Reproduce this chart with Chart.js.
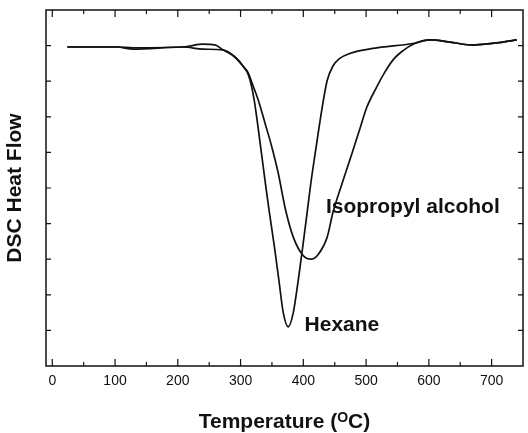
<!DOCTYPE html>
<html>
<head>
<meta charset="utf-8">
<script src="https://cdn.jsdelivr.net/npm/chart.js@4.4.0/dist/chart.umd.min.js"></script>
<style>
  body { margin: 0; background: #fff; }
  canvas { display: block; }
</style>
</head>
<body>
<canvas id="dsc" width="528" height="433"></canvas>
<script>
// temperatures (°C) and heat flow (arbitrary units)
const hexaneT = [24, 103, 129, 208, 240, 272, 291, 305, 312, 317, 322, 327, 334, 341, 346, 354, 361, 368, 376, 384, 392, 399, 406, 412, 422, 430, 438, 447, 458, 474, 511, 575, 602, 634, 666, 718, 740];
const hexaneV = [3.98, 3.98, 3.95, 3.98, 3.95, 3.94, 3.84, 3.70, 3.60, 3.45, 3.22, 2.91, 2.44, 1.97, 1.65, 1.17, 0.71, 0.25, 0.05, 0.25, 0.71, 1.17, 1.65, 2.07, 2.67, 3.13, 3.51, 3.71, 3.82, 3.89, 3.96, 4.03, 4.08, 4.05, 4.01, 4.05, 4.08];

const ipaT = [24, 103, 129, 208, 240, 259, 272, 291, 305, 312, 318, 328, 339, 350, 360, 371, 384, 399, 412, 423, 438, 447, 462, 478, 490, 501, 517, 528, 543, 559, 575, 602, 634, 666, 718, 740];
const ipaV = [3.98, 3.98, 3.97, 3.98, 4.02, 4.01, 3.94, 3.84, 3.70, 3.62, 3.48, 3.24, 2.91, 2.57, 2.21, 1.72, 1.31, 1.06, 1.00, 1.06, 1.31, 1.65, 2.07, 2.50, 2.83, 3.13, 3.42, 3.60, 3.80, 3.93, 4.02, 4.08, 4.05, 4.01, 4.05, 4.08];

const xTicks = [0, 100, 200, 300, 400, 500, 600, 700];
const xMinor = [50, 150, 250, 350, 450, 550, 650];
const yTicks = [0, 0.5, 1, 1.5, 2, 2.5, 3, 3.5, 4];

// where the curve names sit (data units)
const hexaneLabelAt = { x: 402, y: 0.08 };
const ipaLabelAt = { x: 436, y: 1.73 };

const ink = '#111';

const toPoints = (xs, ys) => xs.map((x, i) => ({ x: x, y: ys[i] }));

// box, inward ticks, curve names and axis titles
const frame = {
    id: 'frame',
    afterDatasetsDraw(chart) {
        const ctx = chart.ctx;
        const a = chart.chartArea;
        const xs = chart.scales.x;
        const ys = chart.scales.y;
        ctx.save();
        ctx.strokeStyle = ink;
        ctx.lineWidth = 1.5;
        ctx.strokeRect(a.left, a.top, a.right - a.left, a.bottom - a.top);

        ctx.lineWidth = 1.2;
        ctx.beginPath();
        xTicks.forEach(v => {
            const px = xs.getPixelForValue(v);
            ctx.moveTo(px, a.bottom); ctx.lineTo(px, a.bottom - 7);
            ctx.moveTo(px, a.top); ctx.lineTo(px, a.top + 7);
        });
        xMinor.forEach(v => {
            const px = xs.getPixelForValue(v);
            ctx.moveTo(px, a.bottom); ctx.lineTo(px, a.bottom - 4);
            ctx.moveTo(px, a.top); ctx.lineTo(px, a.top + 4);
        });
        yTicks.forEach(v => {
            const py = ys.getPixelForValue(v);
            ctx.moveTo(a.left, py); ctx.lineTo(a.left + 5, py);
            ctx.moveTo(a.right, py); ctx.lineTo(a.right - 5, py);
        });
        ctx.stroke();

        ctx.fillStyle = ink;
        ctx.font = 'bold 21px "Liberation Sans", Arial, sans-serif';
        ctx.textBaseline = 'middle';
        ctx.textAlign = 'left';
        ctx.fillText('Isopropyl alcohol', xs.getPixelForValue(ipaLabelAt.x), ys.getPixelForValue(ipaLabelAt.y));
        ctx.fillText('Hexane', xs.getPixelForValue(hexaneLabelAt.x), ys.getPixelForValue(hexaneLabelAt.y));

        // y title
        ctx.save();
        ctx.translate(15, (a.top + a.bottom) / 2);
        ctx.rotate(-Math.PI / 2);
        ctx.textAlign = 'center';
        ctx.fillText('DSC Heat Flow', 0, 0);
        ctx.restore();

        // x title with superscript O
        const big = 'bold 21px "Liberation Sans", Arial, sans-serif';
        const small = 'bold 14px "Liberation Sans", Arial, sans-serif';
        const p1 = 'Temperature (', p2 = 'O', p3 = 'C)';
        ctx.textBaseline = 'alphabetic';
        ctx.font = big;
        const w1 = ctx.measureText(p1).width, w3 = ctx.measureText(p3).width;
        ctx.font = small;
        const w2 = ctx.measureText(p2).width;
        let x0 = (a.left + a.right) / 2 - (w1 + w2 + w3) / 2;
        const base = 428;
        ctx.font = big;
        ctx.fillText(p1, x0, base);
        ctx.font = small;
        ctx.fillText(p2, x0 + w1, base - 6);
        ctx.font = big;
        ctx.fillText(p3, x0 + w1 + w2, base);
        ctx.restore();
    }
};

new Chart(document.getElementById('dsc'), {
    type: 'scatter',
    data: {
        datasets: [
            {
                label: 'Hexane',
                data: toPoints(hexaneT, hexaneV),
                showLine: true,
                borderColor: ink,
                borderWidth: 1.7,
                pointRadius: 0,
                cubicInterpolationMode: 'monotone'
            },
            {
                label: 'Isopropyl alcohol',
                data: toPoints(ipaT, ipaV),
                showLine: true,
                borderColor: ink,
                borderWidth: 1.7,
                pointRadius: 0,
                cubicInterpolationMode: 'monotone'
            }
        ]
    },
    options: {
        responsive: false,
        animation: false,
        layout: { padding: { left: 46, right: 5, top: 10, bottom: 0 } },
        plugins: {
            legend: { display: false },
            tooltip: { enabled: false }
        },
        scales: {
            x: {
                type: 'linear',
                min: -10,
                max: 750,
                grid: { display: false, drawTicks: false },
                border: { display: false },
                afterBuildTicks: s => { s.ticks = xTicks.map(v => ({ value: v })); },
                afterFit: s => { s.height = 67; },
                ticks: {
                    color: ink,
                    padding: 7,
                    maxRotation: 0,
                    font: { family: '"Liberation Sans", Arial, sans-serif', size: 14 }
                }
            },
            y: {
                display: false,
                min: -0.5,
                max: 4.5
            }
        }
    },
    plugins: [frame]
});
</script>
</body>
</html>
